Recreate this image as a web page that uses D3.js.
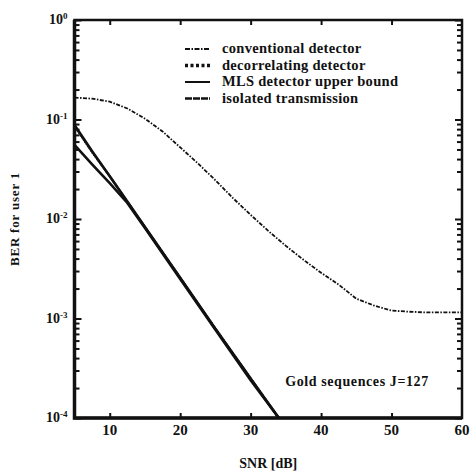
<!DOCTYPE html>
<html>
<head>
<meta charset="utf-8">
<script src="https://cdn.jsdelivr.net/npm/d3@7"></script>
<style>
  body { margin: 0; background: #fff; }
  text { font-family: "Liberation Serif", "DejaVu Serif", serif; font-weight: bold; fill: #111; }
</style>
</head>
<body>
<script>
// chart values
var snr = [5, 7.5, 10, 12.5, 15, 17.5, 20, 22.5, 25, 27.5, 30, 32.5, 35, 37.5, 40, 42.5, 45, 47.5, 50, 52.5, 55, 57.5, 60];
var berConventional = [0.166, 0.162, 0.151, 0.129, 0.102, 0.0759, 0.0525, 0.0363, 0.0245, 0.0162, 0.011, 0.00759,
    0.00537, 0.00389, 0.00288, 0.00219, 0.00158, 0.00135, 0.0012, 0.00117, 0.00115, 0.00115, 0.00115];

var snrLow = [5, 7.5, 10, 12.5, 15, 20, 25, 30, 34];
var berDecorrelating = [0.086, 0.047, 0.027, 0.0149, 0.0083, 0.00257, 0.00079, 0.00025, 0.0001];
var berMLS = [0.088, 0.048, 0.0269, 0.0150, 0.0083, 0.00257, 0.00079, 0.00025, 0.0001];
var berIsolated = [0.0555, 0.0355, 0.0229, 0.0145, 0.0081, 0.00249, 0.00077, 0.00024, 0.0001];

var xTicks = [10, 20, 30, 40, 50, 60];
var yDecades = [1, 0.1, 0.01, 0.001, 0.0001];
var yExponents = ["0", "-1", "-2", "-3", "-4"];
var legendNames = ["conventional detector", "decorrelating detector", "MLS detector upper bound", "isolated transmission"];

var margin = {top: 20, right: 10, bottom: 57, left: 74.5};
var svgWidth = 472;
var svgHeight = 475;
var width = svgWidth - margin.left - margin.right;
var height = svgHeight - margin.top - margin.bottom;

var svg = d3.select("body")
    .append("svg")
    .attr("width", svgWidth)
    .attr("height", svgHeight)
        .append("g")
            .attr("transform", "translate(" + margin.left + "," + margin.top + ")");

var xScale = d3.scaleLinear()
    .domain([5, 60])
    .range([0, width]);

var yScale = d3.scaleLog()
    .domain([1, 1e-4])
    .range([0, height]);

// minor ticks 2..9 in each decade
var minorTicks = [];
for (let e = 0; e > -4; e--) {
    for (let m = 2; m <= 9; m++) {
        minorTicks.push(m * Math.pow(10, e - 1));
    }
}

function styleAxis(g) {
    g.select(".domain").remove();
    g.selectAll(".tick line").attr("stroke", "#111").attr("stroke-width", 2);
}

svg.append("g")
    .call(d3.axisLeft(yScale).tickValues(minorTicks).tickSize(-5).tickFormat(""))
    .call(styleAxis);
svg.append("g")
    .attr("transform", "translate(" + width + ",0)")
    .call(d3.axisRight(yScale).tickValues(minorTicks).tickSize(-5).tickFormat(""))
    .call(styleAxis);
svg.append("g")
    .call(d3.axisLeft(yScale).tickValues(yDecades).tickSize(-7).tickFormat(""))
    .call(styleAxis);
svg.append("g")
    .attr("transform", "translate(" + width + ",0)")
    .call(d3.axisRight(yScale).tickValues(yDecades).tickSize(-7).tickFormat(""))
    .call(styleAxis);

svg.append("g")
    .attr("transform", "translate(0," + height + ")")
    .call(d3.axisBottom(xScale).tickValues(xTicks.slice(0, -1)).tickSize(-5).tickFormat(""))
    .call(styleAxis);
svg.append("g")
    .call(d3.axisTop(xScale).tickValues(xTicks.slice(0, -1)).tickSize(-5).tickFormat(""))
    .call(styleAxis);

// frame
svg.append("rect")
    .attr("width", width)
    .attr("height", height)
    .attr("fill", "none")
    .attr("stroke", "#111")
    .attr("stroke-width", 2.5);
svg.append("path")
    .attr("d", "M0,0V" + height + "H" + width)
    .attr("fill", "none")
    .attr("stroke", "#111")
    .attr("stroke-width", 3.5);

// tick labels
svg.selectAll(".xlab")
    .data(xTicks)
    .enter().append("text")
    .attr("x", function(d) { return xScale(d); })
    .attr("y", height + 17)
    .attr("text-anchor", "middle")
    .style("font-size", "15px")
    .text(function(d) { return d; });

var ylab = svg.selectAll(".ylab")
    .data(yDecades)
    .enter().append("text")
    .attr("x", -7)
    .attr("y", function(d) { return yScale(d) + 4; })
    .attr("text-anchor", "end")
    .style("font-size", "14px");
ylab.append("tspan").text("10");
ylab.append("tspan")
    .attr("dy", -5)
    .style("font-size", "9px")
    .text(function(d, i) { return yExponents[i]; });

svg.append("text")
    .attr("x", width / 2)
    .attr("y", height + 50)
    .attr("text-anchor", "middle")
    .style("font-size", "14px")
    .text("SNR [dB]");

svg.append("text")
    .attr("transform", "translate(" + (-56) + "," + (height / 2) + ") rotate(-90)")
    .attr("text-anchor", "middle")
    .style("font-size", "13px")
    .style("letter-spacing", "0.8px")
    .text("BER for user 1");

svg.append("text")
    .attr("x", xScale(34.9))
    .attr("y", yScale(2.1e-4))
    .style("font-size", "14px")
    .style("letter-spacing", "0.6px")
    .text("Gold sequences J=127");

// curves
var line = d3.line()
    .x(function(d) { return xScale(d[0]); })
    .y(function(d) { return yScale(d[1]); });

function drawCurve(xs, ys, width, dash) {
    svg.append("path")
        .datum(d3.zip(xs, ys))
        .attr("d", line)
        .attr("fill", "none")
        .attr("stroke", "#111")
        .attr("stroke-width", width)
        .attr("stroke-dasharray", dash);
}

drawCurve(snr, berConventional, 1.8, "4,1.5,1.5,1.5");
drawCurve(snrLow, berIsolated, 2.6, null);
drawCurve(snrLow, berMLS, 2.6, null);
drawCurve(snrLow, berDecorrelating, 2.2, "2,0.6");

// legend
var legendX = 110.5;
var legendY = 29;
var legendStep = 16.5;
var legendDash = ["5,1.5,1.5,1.5", "3,2.5", null, "7,1"];
var legendWidth = [1.8, 3.5, 2, 2.6];

legendNames.forEach(function(name, i) {
    var yy = legendY + i * legendStep;
    svg.append("line")
        .attr("x1", legendX)
        .attr("x2", legendX + 25)
        .attr("y1", yy)
        .attr("y2", yy)
        .attr("stroke", "#111")
        .attr("stroke-width", legendWidth[i])
        .attr("stroke-dasharray", legendDash[i]);
    svg.append("text")
        .attr("x", legendX + 37)
        .attr("y", yy + 4)
        .style("font-size", "14.5px")
        .style("letter-spacing", "0.3px")
        .text(name);
});
</script>
</body>
</html>
